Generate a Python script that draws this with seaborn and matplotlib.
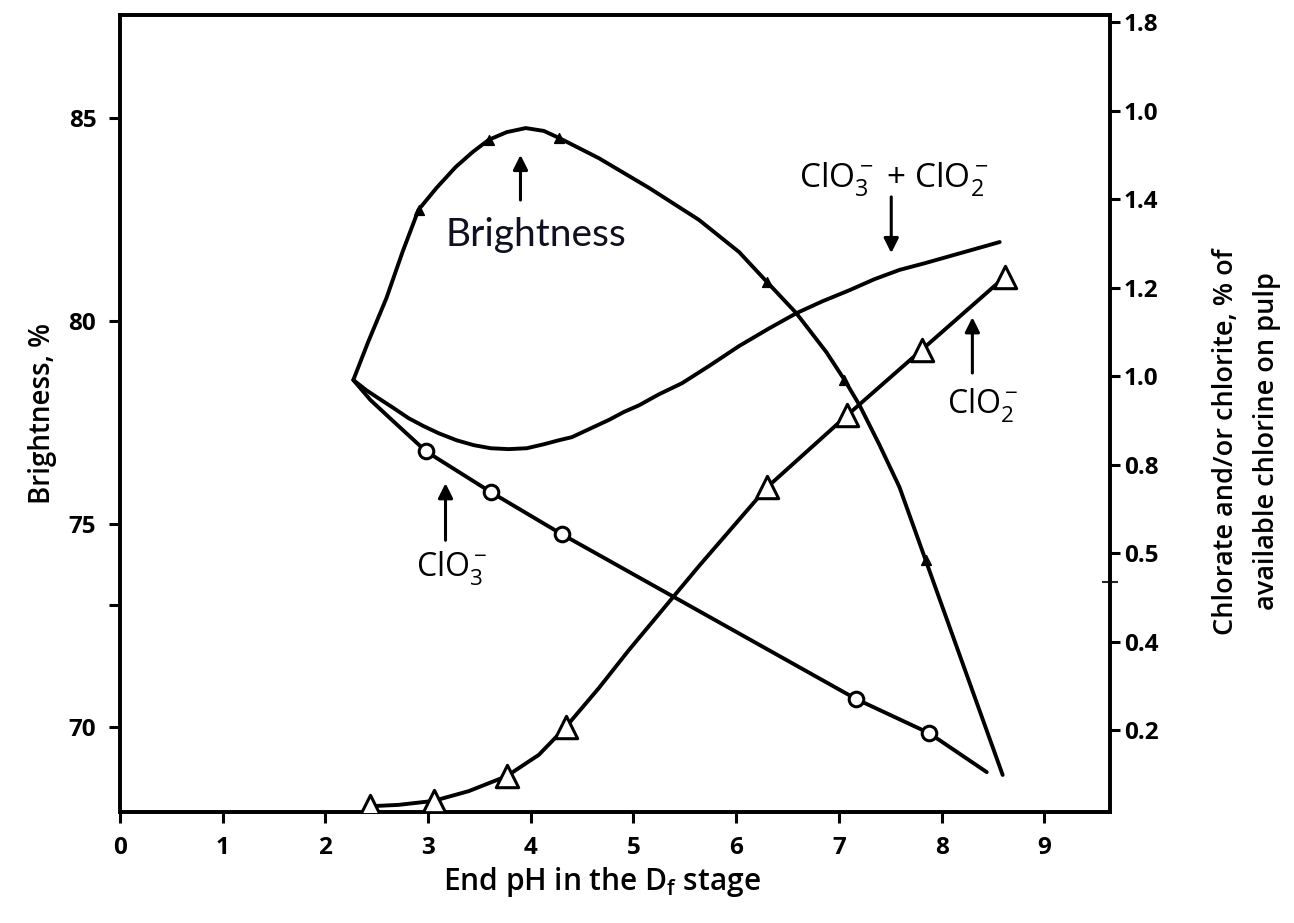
import matplotlib
matplotlib.use("Agg")
import matplotlib.pyplot as plt
import seaborn as sns

# ---------------- data ----------------
# Brightness, % (left axis) vs end pH
bright_ph = [2.273, 2.420, 2.595, 2.751, 2.907, 3.083, 3.268, 3.434, 3.590, 3.766, 3.951, 4.127,
             4.273, 4.663, 5.151, 5.639, 6.029, 6.302, 6.585, 6.878, 7.054, 7.200, 7.395, 7.590,
             7.844, 8.176, 8.595]
bright_val = [78.55, 79.50, 80.56, 81.69, 82.73, 83.27, 83.78, 84.15, 84.45, 84.64, 84.74, 84.67,
              84.50, 84.00, 83.27, 82.48, 81.69, 80.95, 80.19, 79.23, 78.55, 77.93, 76.95, 75.91,
              74.12, 71.78, 68.83]
bright_marked = [4, 8, 12, 17, 20, 24]

# ClO3- + ClO2- (right axis), curve without markers
sum_ph = [2.273, 2.400, 2.517, 2.663, 2.810, 2.956, 3.102, 3.278, 3.444, 3.610, 3.785, 3.961,
          4.127, 4.273, 4.400, 4.566, 4.761, 4.907, 5.054, 5.249, 5.473, 5.737, 6.029, 6.322,
          6.585, 6.839, 7.102, 7.346, 7.590, 7.834, 8.078, 8.322, 8.566]
sum_val = [0.991, 0.968, 0.950, 0.928, 0.905, 0.887, 0.871, 0.855, 0.844, 0.837, 0.835, 0.837,
           0.846, 0.855, 0.862, 0.880, 0.901, 0.919, 0.934, 0.959, 0.984, 1.023, 1.068, 1.108,
           1.142, 1.169, 1.194, 1.219, 1.240, 1.255, 1.271, 1.287, 1.303]

# ClO3- (right axis), open circles
clo3_ph = [2.273, 2.439, 2.610, 2.980, 3.610, 4.300, 7.170, 7.880, 8.440]
clo3_val = [0.991, 0.946, 0.909, 0.830, 0.738, 0.643, 0.270, 0.193, 0.105]
clo3_marked = [3, 4, 5, 6, 7]

# ClO2- (right axis), open triangles
clo2_ph = [2.439, 2.712, 3.054, 3.395, 3.766, 4.078, 4.341, 4.663, 4.956, 5.639, 6.302, 7.083,
           7.805, 8.615]
clo2_val = [0.028, 0.031, 0.040, 0.062, 0.096, 0.144, 0.207, 0.295, 0.381, 0.571, 0.749, 0.912,
            1.059, 1.224]
clo2_marked = [0, 2, 4, 6, 10, 11, 12, 13]

x_ticks = [0, 1, 2, 3, 4, 5, 6, 7, 8, 9]
left_ticks = [70, 75, 80, 85]
right_ticks = [0.2, 0.4, 0.6, 0.8, 1.0, 1.2, 1.4, 1.6, 1.8]
right_ticklabels = ["0.2", "0.4", "0.5", "0.8", "1.0", "1.2", "1.4", "1.0", "1.8"]

# ---------------- style ----------------
sns.set_theme(style="ticks")
plt.rcParams["font.family"] = ["Open Sans", "DejaVu Sans"]
plt.rcParams["mathtext.default"] = "regular"
plt.rcParams["axes.linewidth"] = 2.6

fig = plt.figure(figsize=(12.94, 9.23), dpi=100)
ax = fig.add_axes([0.0927, 0.1203, 0.7651, 0.8634])
ax2 = ax.twinx()

LW = 2.8
K = "black"

# Brightness
sns.lineplot(x=bright_ph, y=bright_val, ax=ax, color=K, lw=LW, sort=False, estimator=None)
sns.scatterplot(x=[bright_ph[i] for i in bright_marked], y=[bright_val[i] for i in bright_marked],
                ax=ax, marker="^", s=50, color=K, edgecolor=K, linewidth=1, zorder=5)

# Sum curve
sns.lineplot(x=sum_ph, y=sum_val, ax=ax2, color=K, lw=LW, sort=False, estimator=None)
# ClO3-
sns.lineplot(x=clo3_ph, y=clo3_val, ax=ax2, color=K, lw=LW, sort=False, estimator=None)
sns.scatterplot(x=[clo3_ph[i] for i in clo3_marked], y=[clo3_val[i] for i in clo3_marked],
                ax=ax2, marker="o", s=110, facecolor="white", edgecolor=K, linewidth=2.2, zorder=5)
# ClO2-
sns.lineplot(x=clo2_ph, y=clo2_val, ax=ax2, color=K, lw=LW, sort=False, estimator=None)
sns.scatterplot(x=[clo2_ph[i] for i in clo2_marked], y=[clo2_val[i] for i in clo2_marked],
                ax=ax2, marker="^", s=260, facecolor="white", edgecolor=K, linewidth=2.2, zorder=5)

# ---------------- axes ----------------
ax.set_xlim(0, 9.64)
ax.set_ylim(67.92, 87.52)
ax2.set_ylim(0.015, 1.816)

ax.set_xticks(x_ticks)
ax.set_xticklabels([str(t) for t in x_ticks])
ax.set_yticks(left_ticks)
ax.set_yticklabels([str(t) for t in left_ticks])
ax.set_yticks([73], minor=True)
ax2.set_yticks(right_ticks)
ax2.set_yticklabels(right_ticklabels)
ax2.set_yticks([0.534], minor=True)

for lab in ax.get_xticklabels() + ax.get_yticklabels() + ax2.get_yticklabels():
    lab.set_fontsize(17.5)
    lab.set_fontweight("bold")

ax.tick_params(axis="x", direction="out", length=8, width=2.2, pad=9, colors=K)
ax.tick_params(axis="y", which="both", direction="out", length=8, width=2.2, pad=9, colors=K)
ax2.tick_params(axis="y", direction="out", length=7, width=2.2, pad=3, colors=K)
ax2.tick_params(axis="y", which="minor", direction="inout", length=12, width=1.5)

for a in (ax, ax2):
    for s in a.spines.values():
        s.set_color(K)
        s.set_linewidth(2.6)
        s.set_visible(True)

ax.set_xlabel(r"End pH in the D$_f$ stage", fontsize=21.5, fontweight="semibold", color=K)
ax.xaxis.set_label_coords(0.487, -0.088)
ax.xaxis.label.set_verticalalignment("center")
ax.set_ylabel("Brightness, %", fontsize=20, fontweight="semibold", labelpad=8, color=K)
ax2.set_ylabel("Chlorate and/or chlorite, % of\navailable chlorine on pulp", fontsize=19.5,
               fontweight="semibold", color=K, rotation=90, multialignment="center",
               linespacing=1.6)
ax2.yaxis.set_label_coords(1.138, 0.465)
ax2.yaxis.label.set_verticalalignment("center")
ax2.yaxis.label.set_horizontalalignment("center")

# ---------------- annotations ----------------
arrow = dict(arrowstyle="-|>", lw=2.2, color=K, mutation_scale=22, shrinkA=0, shrinkB=0)

ax.annotate("", xy=(3.90, 84.08), xytext=(3.90, 82.97), arrowprops=arrow)
ax.text(4.05, 82.11, "Brightness", fontsize=28, family=["Lato", "DejaVu Sans"],
        ha="center", va="center", color="#101020")

ax2.annotate("", xy=(7.51, 1.278), xytext=(7.51, 1.405), arrowprops=arrow)
ax2.text(7.54, 1.445, r"ClO$_3^-$ + ClO$_2^-$", fontsize=24, ha="center", va="center", color=K)

ax2.annotate("", xy=(8.30, 1.133), xytext=(8.30, 1.007), arrowprops=arrow)
ax2.text(8.40, 0.934, r"ClO$_2^-$", fontsize=23, ha="center", va="center", color=K)

ax2.annotate("", xy=(3.17, 0.758), xytext=(3.17, 0.629), arrowprops=arrow)
ax2.text(3.23, 0.566, r"ClO$_3^-$", fontsize=23, ha="center", va="center", color=K)

fig.savefig("out.png", dpi=100, facecolor="white")
